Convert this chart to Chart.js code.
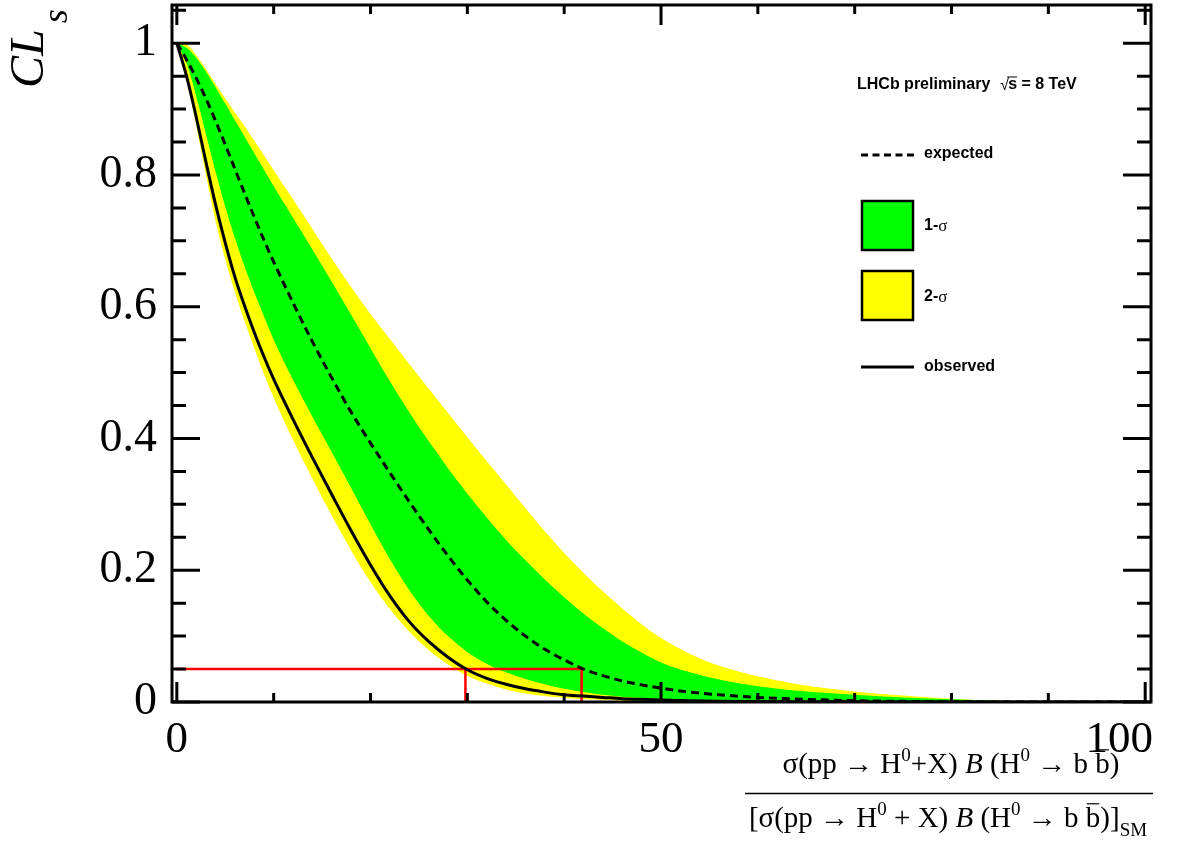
<!DOCTYPE html>
<html>
<head>
<meta charset="utf-8">
<title>CLs limit</title>
<script src="https://cdn.jsdelivr.net/npm/chart.js@4.4.1/dist/chart.umd.min.js"></script>
<style>
  body { margin: 0; background: #fff; overflow: hidden; }
  canvas { display: block; }
</style>
</head>
<body>
<canvas id="chart" width="1196" height="846"></canvas>
<script>
// values
const xs = [0, 1, 2, 3, 4, 5, 6, 7, 8, 9, 10, 12, 14, 16, 18, 20, 22, 24, 26, 28, 30, 32, 34, 36, 38, 40, 42, 44, 46, 48, 50, 53, 56, 60, 65, 70, 75, 80, 85, 90, 100];

const observed = [1, 0.95, 0.888, 0.82, 0.755, 0.697, 0.645, 0.601, 0.561, 0.524, 0.49, 0.429, 0.371, 0.315, 0.26, 0.208, 0.161, 0.122, 0.092, 0.068, 0.049, 0.036, 0.027, 0.02, 0.015, 0.011, 0.009, 0.007, 0.005, 0.004, 0.003, 0.002, 0.0013, 0.0008, 0.0004, 0.0002, 0, 0, 0, 0, 0];

const expected = [1, 0.975, 0.947, 0.916, 0.882, 0.846, 0.809, 0.772, 0.736, 0.701, 0.668, 0.606, 0.547, 0.492, 0.44, 0.393, 0.348, 0.304, 0.262, 0.222, 0.185, 0.152, 0.124, 0.1, 0.08, 0.064, 0.05, 0.04, 0.032, 0.026, 0.021, 0.015, 0.011, 0.007, 0.004, 0.002, 0.001, 0.0005, 0, 0, 0];

const band1Up = [1, 0.993, 0.978, 0.957, 0.933, 0.908, 0.883, 0.858, 0.833, 0.808, 0.783, 0.735, 0.687, 0.638, 0.588, 0.537, 0.487, 0.44, 0.396, 0.355, 0.316, 0.28, 0.246, 0.215, 0.186, 0.159, 0.134, 0.112, 0.092, 0.075, 0.06, 0.045, 0.034, 0.024, 0.016, 0.011, 0.007, 0.004, 0.002, 0.001, 0];
const band1Lo = [1, 0.97, 0.92, 0.862, 0.805, 0.752, 0.704, 0.661, 0.622, 0.585, 0.55, 0.489, 0.433, 0.379, 0.325, 0.27, 0.217, 0.17, 0.131, 0.1, 0.076, 0.058, 0.045, 0.035, 0.027, 0.02, 0.015, 0.011, 0.008, 0.006, 0.0045, 0.003, 0.002, 0.001, 0.0005, 0, 0, 0, 0, 0, 0];

const band2Up = [1, 0.998, 0.982, 0.961, 0.938, 0.916, 0.895, 0.874, 0.852, 0.83, 0.807, 0.763, 0.718, 0.673, 0.63, 0.589, 0.551, 0.513, 0.476, 0.439, 0.402, 0.366, 0.33, 0.294, 0.259, 0.226, 0.196, 0.168, 0.142, 0.118, 0.097, 0.073, 0.055, 0.039, 0.025, 0.016, 0.01, 0.005, 0.002, 0.001, 0];
const band2Lo = [1, 0.945, 0.875, 0.8, 0.73, 0.672, 0.622, 0.578, 0.537, 0.498, 0.462, 0.398, 0.339, 0.283, 0.23, 0.182, 0.141, 0.107, 0.079, 0.057, 0.04, 0.028, 0.019, 0.013, 0.009, 0.006, 0.004, 0.003, 0.002, 0.0015, 0.001, 0.0005, 0, 0, 0, 0, 0, 0, 0, 0, 0];

// 95% CL limits
const clLevel = 0.05;
const obsLimit = 29.8;
const expLimit = 41.8;

// axis ticks
const xTicks = [0, 50, 100];
const xTickLabels = ['0', '50', '100'];
const xMinorTicks = [10, 20, 30, 40, 60, 70, 80, 90];
const yTicks = [0, 0.2, 0.4, 0.6, 0.8, 1];
const yTickLabels = ['0', '0.2', '0.4', '0.6', '0.8', '1'];
const yMinorTicks = [0.05, 0.1, 0.15, 0.25, 0.3, 0.35, 0.45, 0.5, 0.55, 0.65, 0.7, 0.75, 0.85, 0.9, 0.95, 1.05];

const SERIF = '"Liberation Serif", "Times New Roman", serif';
const SANS = '"Liberation Sans", Arial, sans-serif';

function pts(ys) {
    return xs.map((x, i) => ({ x: x, y: ys[i] }));
}

// rich text: parts with optional sup / sub / italic / bar
function drawRich(ctx, parts, cx, baseline, size) {
    const fontFor = p => (p.it ? 'italic ' : '') + Math.round((p.sup || p.sub) ? size * 0.65 : size) + 'px ' + SERIF;
    let total = 0;
    parts.forEach(p => {
        ctx.font = fontFor(p);
        p.w = ctx.measureText(p.t).width;
        total += p.w;
    });
    let x = cx - total / 2;
    ctx.textAlign = 'left';
    ctx.textBaseline = 'alphabetic';
    parts.forEach(p => {
        ctx.font = fontFor(p);
        let y = baseline;
        if (p.sup) y -= size * 0.42;
        if (p.sub) y += size * 0.3;
        ctx.fillText(p.t, x, y);
        if (p.bar) {
            ctx.lineWidth = 1.2;
            ctx.beginPath();
            ctx.moveTo(x + 1, baseline - size * 0.8);
            ctx.lineTo(x + p.w - 1, baseline - size * 0.8);
            ctx.stroke();
        }
        x += p.w;
    });
}

const framePlugin = {
    id: 'rootFrame',
    afterDraw(chart) {
        const ctx = chart.ctx;
        const a = chart.chartArea;
        const sx = chart.scales.x;
        const sy = chart.scales.y;
        ctx.save();
        ctx.strokeStyle = '#000';
        ctx.fillStyle = '#000';

        // frame
        ctx.lineWidth = 3;
        ctx.strokeRect(a.left, a.top, a.right - a.left, a.bottom - a.top);

        // inward ticks on all four sides
        ctx.beginPath();
        xTicks.concat(xMinorTicks).forEach(v => {
            const len = xTicks.includes(v) ? 20 : 9;
            const px = sx.getPixelForValue(v);
            ctx.moveTo(px, a.bottom); ctx.lineTo(px, a.bottom - len);
            ctx.moveTo(px, a.top); ctx.lineTo(px, a.top + len);
        });
        yTicks.concat(yMinorTicks).forEach(v => {
            const len = yTicks.includes(v) ? 28 : 14;
            const py = sy.getPixelForValue(v);
            ctx.moveTo(a.left, py); ctx.lineTo(a.left + len, py);
            ctx.moveTo(a.right, py); ctx.lineTo(a.right - len, py);
        });
        ctx.stroke();

        // x tick labels (kept inside the canvas edge like ROOT does)
        ctx.font = '45px ' + SERIF;
        ctx.textBaseline = 'alphabetic';
        ctx.textAlign = 'left';
        xTicks.forEach((v, i) => {
            const w = ctx.measureText(xTickLabels[i]).width;
            let left = sx.getPixelForValue(v) - w / 2;
            if (left + w > a.right + 2) left = a.right + 2 - w;
            ctx.fillText(xTickLabels[i], left, 752);
        });

        // y title CL_s
        ctx.save();
        ctx.translate(43, 88);
        ctx.rotate(-Math.PI / 2);
        ctx.font = 'italic 48px ' + SERIF;
        ctx.fillText('CL', 0, 0);
        const wCL = ctx.measureText('CL').width;
        ctx.font = 'italic 36px ' + SERIF;
        ctx.fillText('s', wCL + 6, 24);
        ctx.restore();

        // x title as a fraction
        const num = [
            { t: 'σ(pp → H' }, { t: '0', sup: true }, { t: '+X) ' }, { t: 'B', it: true },
            { t: ' (H' }, { t: '0', sup: true }, { t: ' → b ' }, { t: 'b', bar: true }, { t: ')' }
        ];
        const den = [
            { t: '[σ(pp → H' }, { t: '0', sup: true }, { t: ' + X) ' }, { t: 'B', it: true },
            { t: ' (H' }, { t: '0', sup: true }, { t: ' → b ' }, { t: 'b', bar: true }, { t: ')]' },
            { t: 'SM', sub: true }
        ];
        drawRich(ctx, num, 951, 773, 29);
        drawRich(ctx, den, 948, 827, 29);
        ctx.lineWidth = 1.5;
        ctx.beginPath();
        ctx.moveTo(745, 793.5); ctx.lineTo(1153, 793.5);
        ctx.stroke();

        // legend
        ctx.textBaseline = 'middle';
        ctx.textAlign = 'left';
        ctx.font = 'bold 16px ' + SANS;
        let lx = 857;
        ctx.fillText('LHCb preliminary', lx, 85);
        lx += ctx.measureText('LHCb preliminary').width + 10;
        ctx.font = '16px ' + SANS;
        ctx.fillText('√', lx, 86);
        lx += ctx.measureText('√').width - 1;
        ctx.font = 'bold 16px ' + SANS;
        const ws = ctx.measureText('s').width;
        ctx.fillText('s', lx, 85);
        ctx.lineWidth = 1;
        ctx.beginPath();
        ctx.moveTo(lx - 1, 77); ctx.lineTo(lx + ws, 77);
        ctx.stroke();
        lx += ws;
        ctx.fillText(' = 8 TeV', lx, 85);

        const tx = 924;
        ctx.lineWidth = 3;
        ctx.setLineDash([7, 4.5]);
        ctx.beginPath();
        ctx.moveTo(861, 155); ctx.lineTo(914, 155);
        ctx.stroke();
        ctx.setLineDash([]);
        ctx.fillText('expected', tx, 154);

        const box = (y, color) => {
            ctx.fillStyle = color;
            ctx.fillRect(862, y, 51, 49);
            ctx.lineWidth = 2.5;
            ctx.strokeRect(862, y, 51, 49);
            ctx.fillStyle = '#000';
        };
        const sigma = (label, y) => {
            ctx.font = 'bold 16px ' + SANS;
            ctx.fillText(label, tx, y);
            const w = ctx.measureText(label).width;
            ctx.font = '17px ' + SERIF;
            ctx.fillText('σ', tx + w, y + 1);
        };
        box(201, '#00ff00');
        sigma('1-', 226);
        box(271, '#ffff00');
        sigma('2-', 297);

        ctx.lineWidth = 3;
        ctx.beginPath();
        ctx.moveTo(861, 367); ctx.lineTo(914, 367);
        ctx.stroke();
        ctx.font = 'bold 16px ' + SANS;
        ctx.fillText('observed', tx, 367);

        ctx.restore();
    }
};

const noLine = 'rgba(0,0,0,0)';

const chart = new Chart(document.getElementById('chart').getContext('2d'), {
    type: 'line',
    data: {
        datasets: [
            { label: '2-sigma up', data: pts(band2Up), borderColor: noLine, borderWidth: 0, backgroundColor: '#ffff00', fill: '+1', order: 5 },
            { label: '2-sigma down', data: pts(band2Lo), borderColor: noLine, borderWidth: 0, fill: false, order: 5 },
            { label: '1-sigma up', data: pts(band1Up), borderColor: noLine, borderWidth: 0, backgroundColor: '#00ff00', fill: '+1', order: 4 },
            { label: '1-sigma down', data: pts(band1Lo), borderColor: noLine, borderWidth: 0, fill: false, order: 4 },
            {
                label: 'expected limit',
                data: [{ x: 0, y: clLevel }, { x: expLimit, y: clLevel }, { x: expLimit, y: 0 }],
                borderColor: '#ff0000', borderWidth: 2.5, fill: false, cubicInterpolationMode: 'default', tension: 0, order: 3
            },
            {
                label: 'observed limit',
                data: [{ x: obsLimit, y: clLevel }, { x: obsLimit, y: 0 }],
                borderColor: '#ff0000', borderWidth: 2.5, fill: false, cubicInterpolationMode: 'default', tension: 0, order: 3
            },
            { label: 'expected', data: pts(expected), borderColor: '#000', borderWidth: 3, borderDash: [8, 5], fill: false, order: 2 },
            { label: 'observed', data: pts(observed), borderColor: '#000', borderWidth: 3, fill: false, order: 1 }
        ]
    },
    options: {
        responsive: false,
        animation: false,
        layout: { padding: { top: 5, right: 45, left: 0, bottom: 0 } },
        elements: {
            point: { radius: 0, hoverRadius: 0 },
            line: { cubicInterpolationMode: 'monotone' }
        },
        plugins: {
            legend: { display: false },
            tooltip: { enabled: false }
        },
        scales: {
            x: {
                type: 'linear',
                min: -0.5,
                max: 100.6,
                grid: { display: false, drawTicks: false },
                border: { display: false },
                ticks: { display: false },
                afterFit(scale) {
                    scale.height = 144;
                    scale.paddingLeft = 0;
                    scale.paddingRight = 0;
                }
            },
            y: {
                type: 'linear',
                min: 0,
                max: 1.058,
                grid: { display: false, drawTicks: false },
                border: { display: false },
                ticks: {
                    color: '#000',
                    padding: 15,
                    font: { family: SERIF, size: 46 },
                    callback: (value, index) => yTickLabels[index]
                },
                afterBuildTicks(scale) {
                    scale.ticks = yTicks.map(v => ({ value: v }));
                },
                afterFit(scale) {
                    scale.width = 172;
                    scale.paddingTop = 0;
                    scale.paddingBottom = 0;
                }
            }
        }
    },
    plugins: [framePlugin]
});
</script>
</body>
</html>
